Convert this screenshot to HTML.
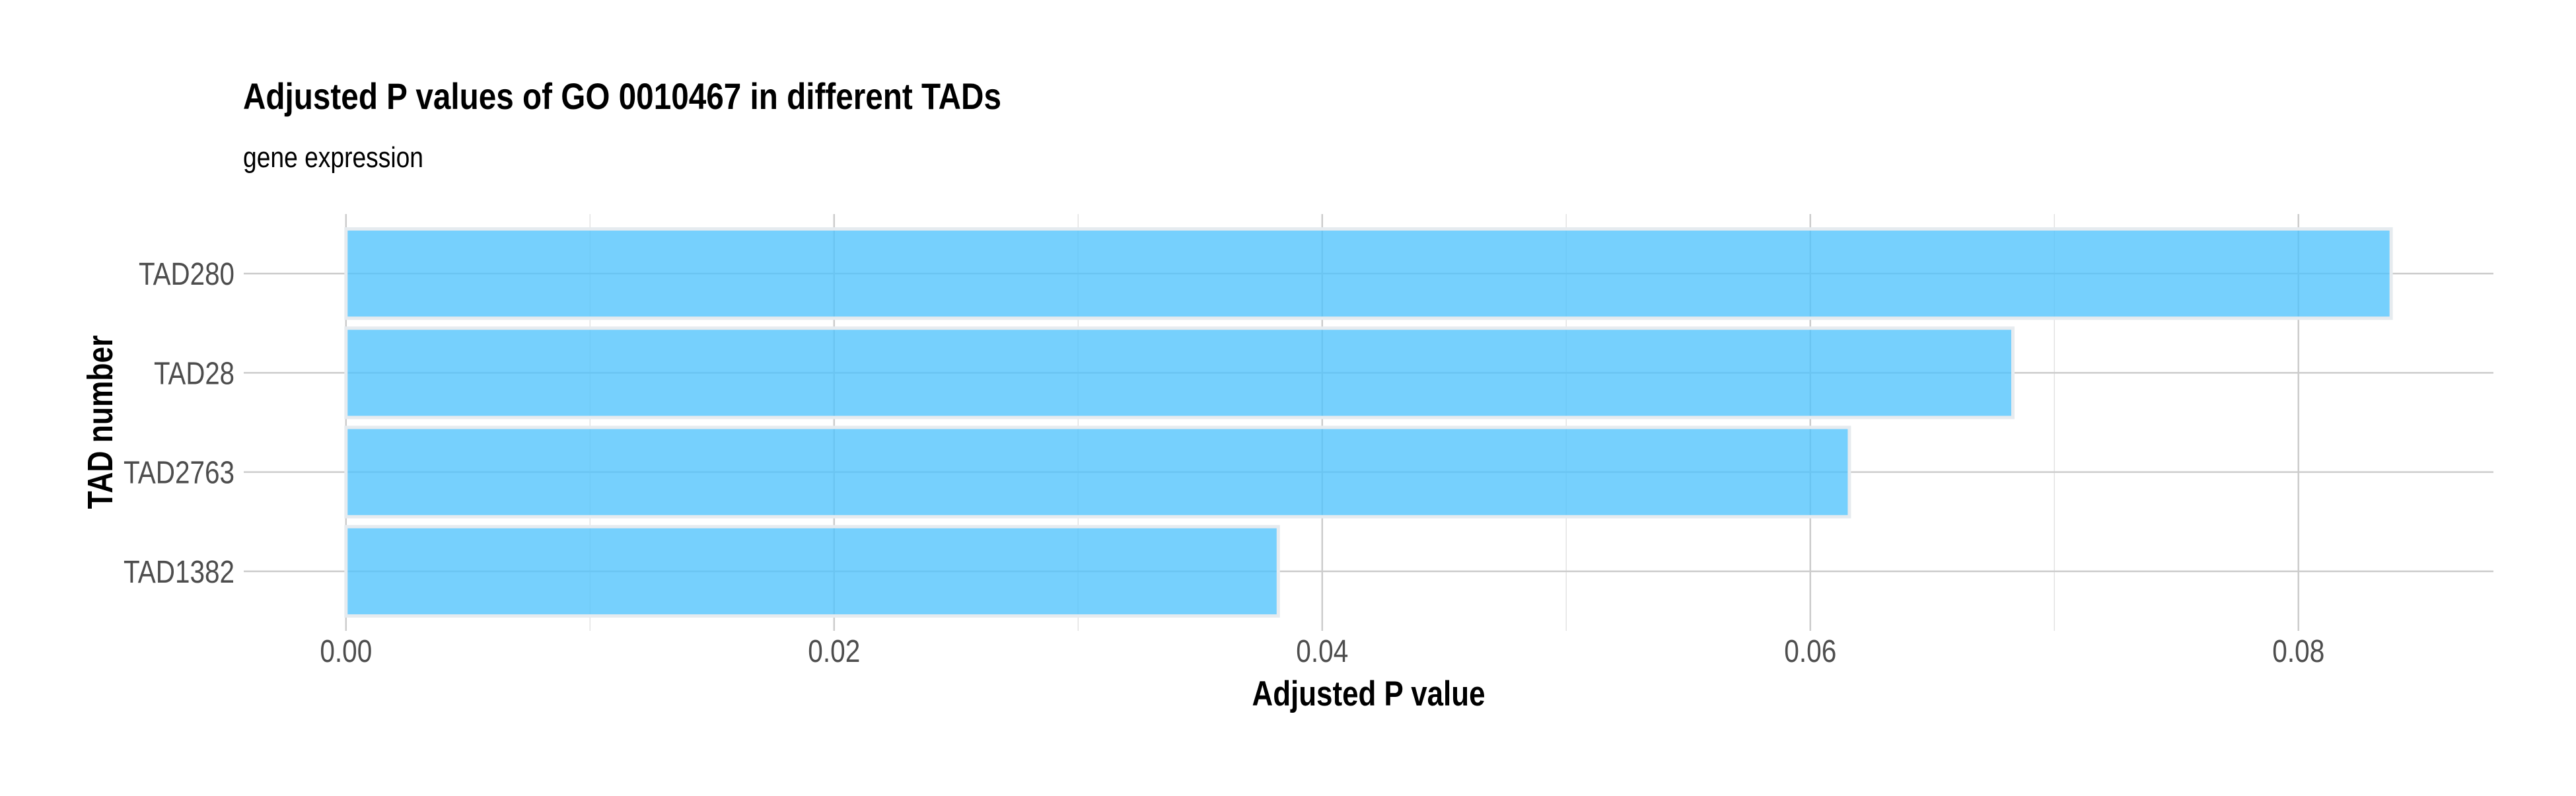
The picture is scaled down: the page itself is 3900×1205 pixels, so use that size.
<!DOCTYPE html>
<html><head><meta charset="utf-8"><style>
html,body{margin:0;padding:0;background:#fff;}
svg text{font-family:"Liberation Sans",Arial,sans-serif;}
</style></head><body>
<svg id="chart" width="3900" height="1200" viewBox="0 0 3900 1200" xmlns="http://www.w3.org/2000/svg">
<rect x="0" y="0" width="3900" height="1200" fill="#fff"/>
<g id="grid"></g>
<g id="bars"></g>
<g id="axes"></g>
<text x="368" y="165" font-size="56" font-weight="bold" fill="#000" textLength="1148" lengthAdjust="spacingAndGlyphs">Adjusted P values of GO 0010467 in different TADs</text>
<text x="368" y="253" font-size="44" fill="#000" textLength="273" lengthAdjust="spacingAndGlyphs">gene expression</text>
<text x="2072" y="1068" font-size="53" font-weight="bold" fill="#000" text-anchor="middle" textLength="353" lengthAdjust="spacingAndGlyphs">Adjusted P value</text>
<text x="0" y="0" font-size="54" font-weight="bold" fill="#000" text-anchor="middle" transform="translate(170,639) rotate(-90)" textLength="263" lengthAdjust="spacingAndGlyphs">TAD number</text>
</svg>
<script>
const categories = ["TAD280", "TAD28", "TAD2763", "TAD1382"];
const values = [0.0838, 0.0683, 0.0616, 0.0382];
const xTicks = [0, 0.02, 0.04, 0.06, 0.08];
const xTickLabels = ["0.00", "0.02", "0.04", "0.06", "0.08"];
const xMinorTicks = [0.01, 0.03, 0.05, 0.07];

const NS = "http://www.w3.org/2000/svg";
const panel = {left: 369, right: 3775, top: 324, bottom: 955};
const maxV = Math.max(...values);
const dMin = -maxV * 0.05, dMax = maxV * 1.05;
function xScale(v){ return panel.left + (v - dMin) / (dMax - dMin) * (panel.right - panel.left); }
const band = (panel.bottom - panel.top) / (categories.length + 0.2);
function yScale(i){ return panel.top + band * 0.6 + i * band; }
function mk(tag, attrs, parent){ const e = document.createElementNS(NS, tag); for (const k in attrs) e.setAttribute(k, attrs[k]); parent.appendChild(e); return e; }

const grid = document.getElementById('grid');
const bars = document.getElementById('bars');
const axes = document.getElementById('axes');

xMinorTicks.forEach(v => {
  const l = mk('line', {x1: xScale(v), x2: xScale(v), y1: panel.top, y2: panel.bottom, stroke: '#e3e3e3', 'stroke-width': 1.5}, grid);
  
  
});
xTicks.forEach((v, i) => {
  const l = mk('line', {x1: xScale(v), x2: xScale(v), y1: panel.top, y2: panel.bottom, stroke: '#cccccc', 'stroke-width': 2.5}, grid);
  
  
  const t = mk('text', {x: xScale(v), y: 1002, 'font-size': 48, fill: '#4d4d4d', 'text-anchor': 'middle', textLength: 79, lengthAdjust: 'spacingAndGlyphs'}, axes);
  t.textContent = xTickLabels[i];
  
  
});
const labelWidths = {"TAD280": 145, "TAD28": 122, "TAD2763": 168, "TAD1382": 168};
categories.forEach((c, i) => {
  const y = yScale(i);
  const l = mk('line', {x1: panel.left, x2: panel.right, y1: y, y2: y, stroke: '#cccccc', 'stroke-width': 2.5}, grid);
  
  
  const t = mk('text', {x: 355, y: y + 17, 'font-size': 48, fill: '#4d4d4d', 'text-anchor': 'end', textLength: labelWidths[c] || 150, lengthAdjust: 'spacingAndGlyphs'}, axes);
  t.textContent = c;
  
  
  const h = band * 0.9;
  const r = mk('rect', {x: xScale(0), y: y - h / 2, width: xScale(values[i]) - xScale(0), height: h, fill: 'rgba(80,195,252,0.78)', stroke: '#e6ebef', 'stroke-width': 5}, bars);
  
  
});
</script>
</body></html>
